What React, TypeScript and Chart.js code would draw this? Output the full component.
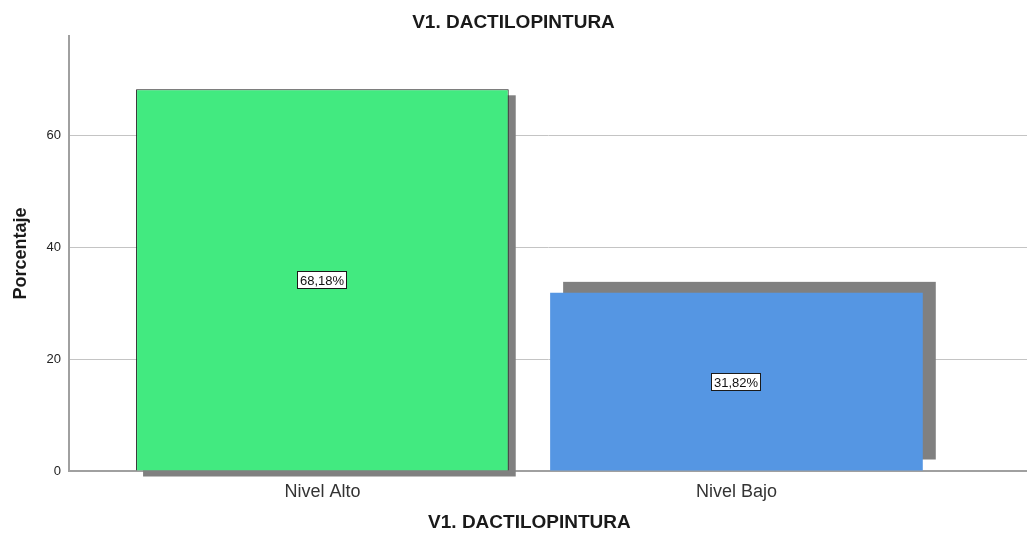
import { useEffect, useRef } from "react";
import { Chart, registerables } from "chart.js";

Chart.register(...registerables);

const TITLE = "V1. DACTILOPINTURA";
const X_TITLE = "V1. DACTILOPINTURA";
const Y_TITLE = "Porcentaje";
const CATEGORIES = ["Nivel Alto", "Nivel Bajo"];
const PERCENTAGES = [68.18, 31.82];
const Y_TICKS = [0, 20, 40, 60];

const BAR_COLORS = ["#42ea80", "#5596e3"];
const BAR_BORDERS = ["#1c1c1c", "#5596e3"];
const BAR_BORDER_WIDTHS = [1, 0];
const SHADOW_COLOR = "#808080";
const SHADOW_OFFSETS = [
  [7, 6],
  [13, -11],
];
const FONT = "'Liberation Sans', Arial, sans-serif";

const formatPct = (v: number) => v.toFixed(2).replace(".", ",") + "%";

const shadowPlugin = {
  id: "shadows",
  beforeDatasetsDraw(chart: any) {
    const ctx = chart.ctx;
    const meta = chart.getDatasetMeta(0);
    ctx.save();
    meta.data.forEach((bar: any, i: number) => {
      const { x, y, base, width } = bar.getProps(["x", "y", "base", "width"], true);
      const [dx, dy] = SHADOW_OFFSETS[i] || [0, 0];
      ctx.fillStyle = SHADOW_COLOR;
      ctx.fillRect(x - width / 2 + dx, y + dy, width, base - y);
    });
    ctx.restore();
  },
};

const labelPlugin = {
  id: "valueLabels",
  afterDatasetsDraw(chart: any) {
    const ctx = chart.ctx;
    const meta = chart.getDatasetMeta(0);
    ctx.save();
    ctx.font = `13px ${FONT}`;
    ctx.textAlign = "center";
    ctx.textBaseline = "middle";
    meta.data.forEach((bar: any, i: number) => {
      const { x, y, base } = bar.getProps(["x", "y", "base"], true);
      const text = formatPct(PERCENTAGES[i]);
      const w = Math.round(ctx.measureText(text).width + 6);
      const h = 18;
      const cx = Math.round(x);
      const cy = Math.round((y + base) / 2);
      const left = cx - Math.round(w / 2);
      const top = cy - h / 2;
      ctx.fillStyle = "#ffffff";
      ctx.fillRect(left, top, w, h);
      ctx.strokeStyle = "#1a1a1a";
      ctx.lineWidth = 1;
      ctx.strokeRect(left + 0.5, top + 0.5, w - 1, h - 1);
      ctx.fillStyle = "#111111";
      ctx.fillText(text, cx, cy + 1);
    });
    ctx.restore();
  },
};

const xTitlePlugin = {
  id: "xTitle",
  afterDraw(chart: any) {
    const ctx = chart.ctx;
    const xs = chart.scales.x;
    const cx = (xs.getPixelForValue(0) + xs.getPixelForValue(CATEGORIES.length - 1)) / 2;
    ctx.save();
    ctx.font = `bold 19px ${FONT}`;
    ctx.textAlign = "center";
    ctx.textBaseline = "middle";
    ctx.fillStyle = "#1a1a1a";
    ctx.fillText(X_TITLE, cx, chart.height - 10);
    ctx.restore();
  },
};

export default function App() {
  const canvasRef = useRef<HTMLCanvasElement | null>(null);

  useEffect(() => {
    if (!canvasRef.current) return;
    const chart = new Chart(canvasRef.current, {
      type: "bar",
      data: {
        datasets: [
          {
            data: PERCENTAGES.map((v, i) => ({ x: i, y: v })),
            backgroundColor: BAR_COLORS,
            borderColor: BAR_BORDERS,
            borderWidth: BAR_BORDER_WIDTHS,
            barPercentage: 0.9,
            categoryPercentage: 1,
          } as any,
        ],
      },
      plugins: [shadowPlugin, labelPlugin, xTitlePlugin],
      options: {
        animation: false,
        responsive: false,
        devicePixelRatio: 1,
        layout: { padding: 0 },
        plugins: {
          legend: { display: false },
          tooltip: { enabled: false },
          title: {
            display: true,
            text: TITLE,
            color: "#1a1a1a",
            font: { family: FONT, size: 19, weight: "bold", lineHeight: 1.2 },
            padding: { top: 11, bottom: 2.2 },
          },
        },
        scales: {
          x: {
            type: "linear",
            offset: false,
            bounds: "data",
            min: -0.612,
            max: 1.7017,
            afterBuildTicks: (scale: any) => {
              scale.ticks = CATEGORIES.map((_, i) => ({ value: i }));
            },
            afterFit: (scale: any) => {
              scale.height = 62;
            },
            grid: { display: false, drawTicks: false, offset: false },
            border: { display: true, color: "#a0a0a0", width: 2 },
            ticks: {
              padding: 10,
              color: "#333333",
              font: { family: FONT, size: 18 },
              autoSkip: false,
              maxRotation: 0,
              callback: (v: any) => CATEGORIES[Math.round(Number(v))] ?? "",
            },
          },
          y: {
            type: "linear",
            min: 0,
            max: 77.7,
            afterBuildTicks: (scale: any) => {
              scale.ticks = Y_TICKS.map((v) => ({ value: v }));
            },
            afterFit: (scale: any) => {
              scale.width = 69;
            },
            grid: { color: "#c4c4c4", lineWidth: 1, drawTicks: false },
            border: { display: true, color: "#a0a0a0", width: 2 },
            ticks: {
              padding: 8,
              color: "#222222",
              font: { family: FONT, size: 13 },
            },
            title: {
              display: true,
              text: Y_TITLE,
              color: "#1a1a1a",
              font: { family: FONT, size: 18, weight: "bold", lineHeight: 1.2 },
              padding: { top: 10, bottom: 0 },
            },
          },
        },
      } as any,
    });
    return () => chart.destroy();
  }, []);

  return (
    <div style={{ position: "fixed", left: 0, top: 0, width: 1027, height: 533, background: "#ffffff" }}>
      <canvas ref={canvasRef} width={1027} height={533} />
    </div>
  );
}
